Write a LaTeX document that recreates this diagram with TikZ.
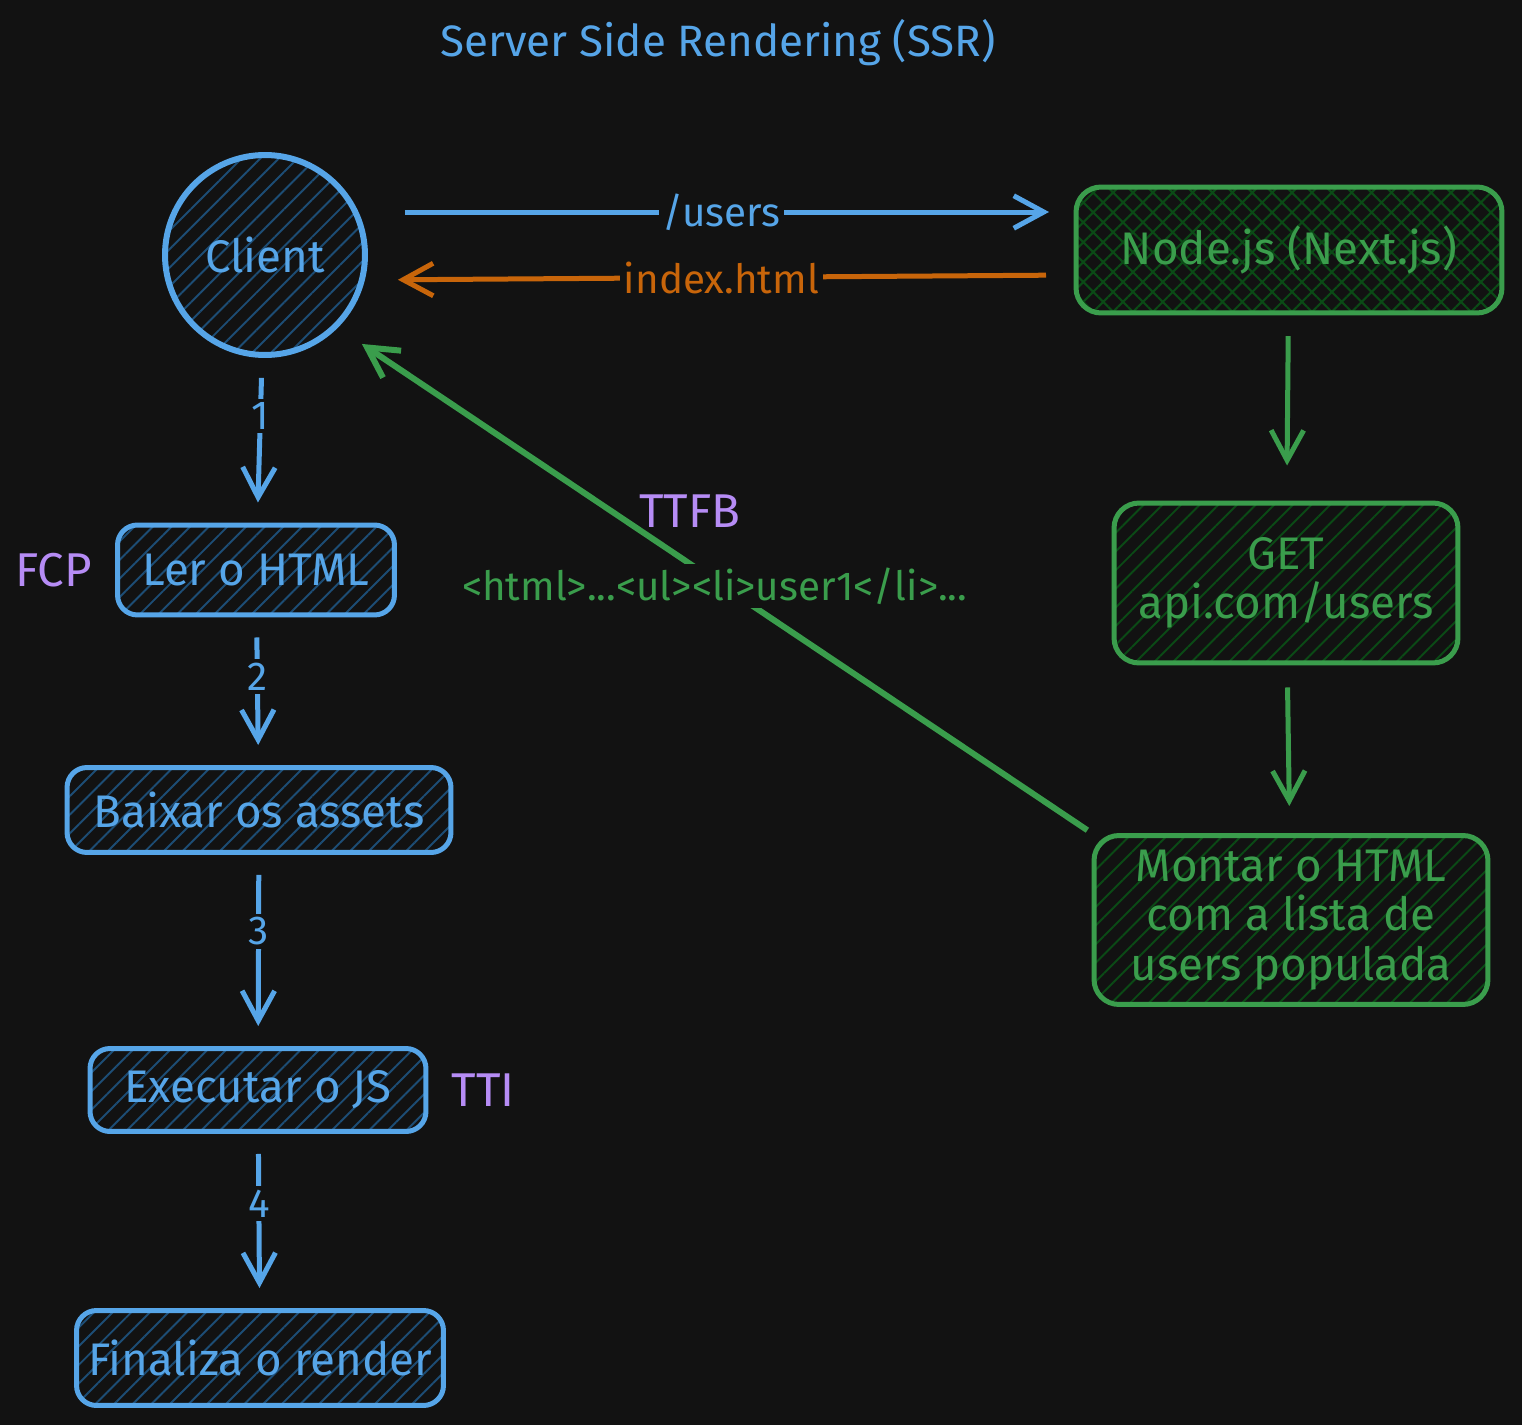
\documentclass[tikz,border=0pt]{standalone}
\usepackage{fontspec}
\setmainfont{Fira Sans}
\usetikzlibrary{arrows.meta, patterns.meta, positioning}
\definecolor{bgdark}{HTML}{121212}
\definecolor{skyline}{HTML}{56A5E8}
\definecolor{skyhatch}{HTML}{1D4D75}
\definecolor{leafline}{HTML}{3A9D4C}
\definecolor{leafhatch}{HTML}{0B4A16}
\definecolor{rust}{HTML}{C8650A}
\definecolor{lilac}{HTML}{B68CF5}

\begin{document}
\begin{tikzpicture}[
    x=0.02cm, y=-0.02cm,
    line width=0.1cm,
    big/.style={font=\fontsize{26}{28}\selectfont},
    mid/.style={font=\fontsize{23}{26}\selectfont},
    step1/.style={draw=skyline,text=skyline,big,rounded corners=0.4cm,
      pattern={Lines[angle=45,distance=7.5pt,line width=1.1pt]},pattern color=skyhatch},
    server/.style={draw=leafline,text=leafline,big,rounded corners=0.5cm,align=center,
      pattern={Lines[angle=45,distance=7.5pt,line width=1.1pt]},pattern color=leafhatch},
    metric/.style={text=lilac,font=\fontsize{27}{30}\selectfont},
    flow/.style={draw=skyline,-{Straight Barb[length=0.6cm,width=0.65cm]},
      shorten <=0.4cm,shorten >=0.4cm},
    back/.style={draw=leafline,-{Straight Barb[length=0.6cm,width=0.65cm]}},
    tag/.style={fill=bgdark,inner sep=2pt,mid}]
  \fill[bgdark] (0,0) rectangle (1522,1425);
  \useasboundingbox (0,0) rectangle (1522,1425);
  \node[text=skyline,font=\fontsize{25}{30}\selectfont] (title) at (718,43) {Server Side Rendering (SSR)};
  % client side
  \node[step1,circle,minimum size=4cm,line width=0.12cm] (client) at (265,255) {Client};
  \node[step1,minimum width=5.54cm,minimum height=1.8cm] (ler) at (256,570) {Ler o HTML};
  \node[step1,minimum width=7.68cm,minimum height=1.7cm] (baixar) at (259,810) {Baixar os assets};
  \node[step1,minimum width=6.72cm,minimum height=1.66cm] (exec) at (258,1090) {Executar o JS};
  \node[step1,minimum width=7.34cm,minimum height=1.9cm] (final) at (260,1358) {Finaliza o render};
  \node[metric,left=0.3cm of ler] (fcp) {FCP};
  \node[metric,right=0.3cm of exec] (tti) {TTI};
  \path[flow] (client) edge node[tag,text=skyline,pos=0.35] {1} (ler);
  \path[flow] (ler) edge node[tag,text=skyline,pos=0.4] {2} (baixar);
  \path[flow] (baixar) edge node[tag,text=skyline,pos=0.4] {3} (exec);
  \path[flow] (exec) edge node[tag,text=skyline,pos=0.4] {4} (final);
  % server side
  \node[server,minimum width=8.52cm,minimum height=2.52cm,
    pattern={Hatch[angle=45,distance=8pt,line width=1.2pt]}] (node) at (1289,250) {Node.js (Next.js)};
  \node[server,minimum width=6.88cm,minimum height=3.2cm] (get) at (1286,583) {GET\\api.com/users};
  \node[server,minimum width=7.88cm,minimum height=3.38cm] (montar) at (1291,920)
    {Montar o HTML\\com a lista de\\users populada};
  \path[back,shorten <=0.44cm,shorten >=0.7cm] (node) edge (get);
  \path[back,shorten <=0.44cm,shorten >=0.54cm] (get) edge (montar);
  % requests
  \draw[flow,shorten <=0.74cm,shorten >=0.52cm] ([yshift=0.86cm]client.east)
    -- node[tag,text=skyline] {/users} ([yshift=0.86cm]client.east -| node.west);
  \draw[flow,draw=rust,shorten <=0.58cm,shorten >=0.6cm] ([yshift=-0.5cm]node.west -| node.west)
    -- node[tag,text=rust] (idx) {index.html} ([yshift=-0.5cm]client.east);
  \draw[back,line width=0.12cm,shorten <=0.1cm,shorten >=0.58cm] (montar.north west)
    -- node[tag,text=leafline,font=\fontsize{23}{26}\selectfont,yshift=-0.12cm] (html)
    {<html>...<ul><li>user1</li>...} (client.south east);
  \node[metric] (ttfb) at (690,511) {TTFB};
\end{tikzpicture}
\end{document}
